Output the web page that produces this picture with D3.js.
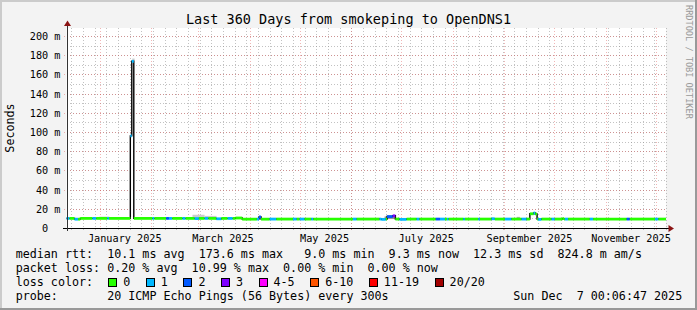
<!DOCTYPE html>
<html>
<head>
<meta charset="utf-8">
<script src="https://cdn.jsdelivr.net/npm/d3@7"></script>
<style>
  body { margin: 0; background: #f3f3f3; }
  svg text { font-family: "DejaVu Sans Mono", monospace; white-space: pre; }
</style>
</head>
<body>
<svg id="chart"></svg>
<script>
// window shown by the graph
const windowStart = "2024-12-12 00:06";
const windowEnd = "2025-12-07 00:06";
const yTopMs = 208.3;

// median rtt as steps: each value holds until the next change time
const changeTimes = [
  "2024-12-12 00:00", "2024-12-13 20:00", "2024-12-16 20:00", "2024-12-19 00:00", "2024-12-20 06:00",
  "2024-12-27 14:00", "2024-12-29 20:00", "2025-01-05 12:00", "2025-01-06 12:00", "2025-01-19 08:00",
  "2025-01-20 05:00", "2025-01-21 10:00", "2025-02-01 16:00", "2025-02-02 20:00", "2025-02-09 20:00",
  "2025-02-11 12:00", "2025-02-13 12:00", "2025-02-19 16:00", "2025-02-21 12:00", "2025-02-27 00:00",
  "2025-03-01 12:00", "2025-03-05 00:00", "2025-03-07 06:00", "2025-03-12 00:00", "2025-03-15 00:00",
  "2025-03-18 18:00", "2025-03-21 20:00", "2025-03-23 12:00", "2025-03-27 12:00", "2025-04-05 08:00",
  "2025-04-06 14:00", "2025-04-07 20:00", "2025-04-13 00:00", "2025-04-17 00:00", "2025-04-27 00:00",
  "2025-04-29 06:00", "2025-05-01 00:00", "2025-05-04 00:00", "2025-05-08 00:00", "2025-05-09 06:00",
  "2025-06-02 00:00", "2025-06-04 06:00", "2025-06-18 00:00", "2025-06-19 00:00", "2025-06-21 18:00",
  "2025-06-22 12:00", "2025-06-25 22:00", "2025-06-27 12:00", "2025-06-30 00:00", "2025-07-04 06:00",
  "2025-07-10 06:00", "2025-07-12 00:00", "2025-07-21 18:00", "2025-07-24 06:00", "2025-07-27 06:00",
  "2025-07-28 12:00", "2025-07-29 12:00", "2025-08-07 06:00", "2025-08-08 06:00", "2025-08-16 06:00",
  "2025-08-17 06:00", "2025-08-24 06:00", "2025-08-26 06:00", "2025-09-01 06:00", "2025-09-05 06:00",
  "2025-09-11 06:00", "2025-09-14 06:00", "2025-09-16 06:00", "2025-09-18 12:00", "2025-09-19 12:00",
  "2025-09-20 14:00", "2025-09-21 06:00", "2025-09-23 06:00", "2025-09-29 06:00", "2025-10-01 06:00",
  "2025-10-05 18:00", "2025-10-06 18:00", "2025-10-07 06:00", "2025-10-09 06:00", "2025-10-22 06:00",
  "2025-10-24 06:00", "2025-11-13 10:00", "2025-11-15 06:00", "2025-11-30 10:00", "2025-12-02 10:00"
];
const medianMs = [
  10.0, 10.0, 9.2, 9.2, 10.0,
  10.0, 10.0, 10.0, 10.0, 96.0,
  173.6, 10.0, 10.0, 10.0, 10.0,
  10.0, 10.0, 10.0, 10.0, 9.8,
  10.0, 10.0, 10.0, 9.6, 10.0,
  10.0, 10.0, 10.4, 9.2, 9.3,
  11.5, 9.2, 9.3, 9.3, 9.3,
  9.3, 9.3, 9.3, 9.3, 9.3,
  9.3, 9.3, 9.3, 9.0, 9.3,
  11.9, 12.7, 9.3, 9.0, 9.3,
  9.3, 9.3, 9.3, 9.3, 9.3,
  9.3, 9.3, 9.3, 9.3, 9.3,
  9.3, 9.6, 9.3, 9.3, 9.3,
  9.3, 9.3, 14.8, 15.6, 14.6,
  9.3, 9.0, 9.3, 9.3, 9.3,
  9.8, 9.3, 9.3, 9.3, 9.3,
  9.3, 9.3, 9.3, 9.3, 9.3
];
const lossPings = [
  1, 0, 1, 0, 0,
  1, 0, 1, 0, 1,
  1, 0, 1, 0, 2,
  1, 0, 1, 0, 1,
  0, 1, 0, 1, 0,
  1, 0, 0, 0, 1,
  2, 0, 1, 0, 1,
  0, 1, 0, 1, 0,
  1, 0, 1, 1, 0,
  2, 3, 0, 1, 0,
  1, 0, 2, 1, 0,
  1, 0, 1, 0, 1,
  0, 1, 0, 1, 0,
  1, 0, 0, 1, 0,
  0, 1, 0, 1, 0,
  0, 0, 1, 0, 1,
  0, 2, 0, 1, 0
];

// visible smoke patches (spread of the 20 pings)
const smokeFrom = ["2024-12-31 18:00", "2025-01-11 12:00", "2025-01-20 12:00", "2025-01-24 22:00", "2025-02-10 16:00",
  "2025-02-15 22:00", "2025-02-25 16:00", "2025-03-04 22:00", "2025-06-21 00:00", "2025-08-24 10:00",
  "2025-09-08 08:00", "2025-10-05 22:00"];
const smokeTo = ["2025-01-06 18:00", "2025-01-15 22:00", "2025-01-21 22:00", "2025-01-26 22:00", "2025-02-13 02:00",
  "2025-02-17 22:00", "2025-03-04 22:00", "2025-03-12 02:00", "2025-06-27 16:00", "2025-08-25 14:00",
  "2025-09-10 06:00", "2025-10-06 16:00"];
const smokeLoMs = [10.0, 10.0, 173.6, 10.0, 10.0, 10.0, 10.0, 10.0, 9.3, 9.6, 9.3, 9.8];
const smokeHiMs = [12.0, 11.5, 176.5, 11.5, 11.5, 11.0, 13.8, 12.6, 12.0, 11.0, 11.6, 11.0];
const smokePings = [3, 2, 4, 2, 3, 2, 4, 4, 8, 3, 6, 4];

// tick labels
const yTicksMinor = d3.range(10, 201, 10);
const yTicksMajor = d3.range(0, 201, 20);
const xLabelMonths = ["2025-01-01", "2025-03-01", "2025-05-01", "2025-07-01", "2025-09-01", "2025-11-01"];

// legend
const lossLabels = ["0", "1", "2", "3", "4-5", "6-10", "11-19", "20/20"];
const lossColors = ["#26ff00", "#00b8ff", "#0059ff", "#7e00ff", "#ff00ff", "#ff5500", "#ff0000", "#a10000"];
const lossBounds = [0, 1, 2, 3, 5, 10, 19, 20];
const titleText = "Last 360 Days from smokeping to OpenDNS1";
const rttLine = "median rtt:  10.1 ms avg  173.6 ms max   9.0 ms min  9.3 ms now  12.3 ms sd  824.8 m am/s";
const lossLine = "packet loss: 0.20 % avg  10.99 % max  0.00 % min  0.00 % now";
const probeLine = "probe:       20 ICMP Echo Pings (56 Bytes) every 300s";
const stampText = "Sun Dec  7 00:06:47 2025";

const W = 697, H = 310;
const plot = { left: 66.5, right: 666, top: 28, bottom: 228 };
const parseT = d3.timeParse("%Y-%m-%d %H:%M");
const parseD = d3.timeParse("%Y-%m-%d");
const tStart = parseT(windowStart), tEnd = parseT(windowEnd);

const svg = d3.select("#chart").attr("width", W).attr("height", H);

// frame
svg.append("rect").attr("width", W).attr("height", H).attr("fill", "#f3f3f3");
svg.append("path").attr("d", `M1,${H} V1 H${W}`).attr("fill", "none").attr("stroke", "#cbcbcb").attr("stroke-width", 2);
svg.append("path").attr("d", `M0,${H - 1} H${W - 1} V0`).attr("fill", "none").attr("stroke", "#999").attr("stroke-width", 2);

const x = d3.scaleTime().domain([tStart, tEnd]).range([plot.left, plot.right]);
const y = d3.scaleLinear().domain([0, yTopMs]).range([plot.bottom, plot.top]);
const px = v => Math.round(v) + 0.5;

svg.append("rect")
  .attr("x", plot.left).attr("y", plot.top)
  .attr("width", plot.right - plot.left).attr("height", plot.bottom - plot.top)
  .attr("fill", "#fff");

const grid = svg.append("g").attr("shape-rendering", "crispEdges").attr("fill", "none");
const minorColor = "rgba(143,143,143,0.55)";
const majorColor = "rgba(222,80,80,0.42)";

// minor grid
grid.selectAll(".hmin").data(yTicksMinor).enter().append("line")
  .attr("x1", plot.left).attr("x2", plot.right)
  .attr("y1", d => px(y(d))).attr("y2", d => px(y(d)))
  .attr("stroke", minorColor).attr("stroke-dasharray", "1,2");
grid.selectAll(".vmin").data(d3.timeSunday.range(tStart, tEnd)).enter().append("line")
  .attr("x1", d => px(x(d))).attr("x2", d => px(x(d)))
  .attr("y1", plot.top).attr("y2", plot.bottom + 2)
  .attr("stroke", minorColor).attr("stroke-dasharray", "1,2");

// major grid
grid.selectAll(".hmaj").data(yTicksMajor.filter(d => d > 0)).enter().append("line")
  .attr("x1", plot.left - 3).attr("x2", plot.right)
  .attr("y1", d => px(y(d))).attr("y2", d => px(y(d)))
  .attr("stroke", majorColor).attr("stroke-dasharray", "1,2");
grid.selectAll(".vmaj").data(d3.timeMonth.range(tStart, tEnd)).enter().append("line")
  .attr("x1", d => px(x(d))).attr("x2", d => px(x(d)))
  .attr("y1", plot.top).attr("y2", plot.bottom + 3)
  .attr("stroke", majorColor).attr("stroke-dasharray", "1,2");

// smoke
const smokeGray = d3.scaleLinear().domain([0, 20]).range(["#ffffff", "#000000"]);
svg.append("g").selectAll("rect").data(smokeFrom).enter().append("rect")
  .attr("x", (d, i) => x(parseT(d)))
  .attr("width", (d, i) => x(parseT(smokeTo[i])) - x(parseT(d)))
  .attr("y", (d, i) => y(smokeHiMs[i]))
  .attr("height", (d, i) => y(smokeLoMs[i]) - y(smokeHiMs[i]))
  .attr("fill", (d, i) => smokeGray(smokePings[i]));

// median line (black steps)
const pts = changeTimes.map((t, i) => [parseT(t), medianMs[i]]);
pts.push([tEnd, medianMs[medianMs.length - 1]]);
svg.append("path")
  .datum(pts)
  .attr("fill", "none").attr("stroke", "#000").attr("stroke-width", 1.4)
  .attr("d", d3.line().x(d => x(d[0])).y(d => y(d[1])).curve(d3.curveStepAfter));

// loss coloured bars on the median
const lossIndex = n => lossBounds.findIndex(b => n <= b);
const segs = changeTimes.map((t, i) => ({
  t0: parseT(t),
  t1: i + 1 < changeTimes.length ? parseT(changeTimes[i + 1]) : tEnd,
  v: medianMs[i],
  loss: lossPings[i]
}));
svg.append("g").selectAll("path").data(segs).enter().append("path")
  .attr("fill", "none").attr("stroke-width", 2.8)
  .attr("stroke", d => lossColors[lossIndex(d.loss)])
  .attr("d", d => d3.line().x(p => x(p[0])).y(p => y(p[1]))([[d.t0, d.v], [d.t1, d.v]]));

// axes
const axisG = svg.append("g").attr("shape-rendering", "crispEdges");
axisG.append("line").attr("x1", 63).attr("x2", 669).attr("y1", plot.bottom + 0.5).attr("y2", plot.bottom + 0.5)
  .attr("stroke", "#000");
axisG.append("line").attr("x1", px(plot.left)).attr("x2", px(plot.left)).attr("y1", 24).attr("y2", plot.bottom + 3)
  .attr("stroke", "#333");
svg.append("path").attr("fill", "#8b1414")
  .attr("d", `M${px(plot.left)},20.5 L${px(plot.left) - 3.5},26 L${px(plot.left) + 3.5},26 Z`);
svg.append("path").attr("fill", "#8b1414")
  .attr("d", `M674,${plot.bottom + 0.5} L668.5,${plot.bottom - 3} L668.5,${plot.bottom + 4} Z`);

// y labels
svg.append("g").selectAll("text").data(yTicksMajor).enter().append("text")
  .attr("x", 60.5).attr("y", d => px(y(d)) + 3.5)
  .attr("text-anchor", "end").attr("font-size", "10.2px")
  .text(d => d === 0 ? "0  " : `${d} m`);

// x labels, centred half a month after the month start
svg.append("g").selectAll("text").data(xLabelMonths.map(parseD)).enter().append("text")
  .attr("x", d => x(d3.timeDay.offset(d, 15)))
  .attr("y", 241.5)
  .attr("text-anchor", "middle").attr("font-size", "10.2px")
  .text(d3.timeFormat("%B %Y"));

// titles
svg.append("text").attr("x", 348.5).attr("y", 24).attr("text-anchor", "middle")
  .attr("font-size", "13.5px").text(titleText);
svg.append("text").attr("transform", `translate(14,128) rotate(-90)`)
  .attr("text-anchor", "middle").attr("font-size", "11.7px").text("Seconds");
svg.append("text").attr("transform", `translate(685.5,5) rotate(90)`)
  .attr("font-size", "8.6px").attr("fill", "#9a9a9a").text("RRDTOOL / TOBI OETIKER");

// legend
const lg = svg.append("g").attr("font-size", "11.7px");
const cw = 7.05;
lg.append("text").attr("x", 15.7).attr("y", 257.5).text(rttLine);
lg.append("text").attr("x", 15.7).attr("y", 271.7).text(lossLine);
lg.append("text").attr("x", 15.7).attr("y", 285.9).text("loss color:");
lg.append("text").attr("x", 15.7).attr("y", 300.1).text(probeLine);
lg.append("text").attr("x", 513.3).attr("y", 300.1).text(stampText);

let bx = 108.3;
lossLabels.forEach((lab, i) => {
  lg.append("rect").attr("x", Math.round(bx) + 0.5).attr("y", 278.5).attr("width", 8).attr("height", 8)
    .attr("fill", lossColors[i]).attr("stroke", "#000").attr("shape-rendering", "crispEdges");
  lg.append("text").attr("x", bx + 15).attr("y", 285.9).text(lab);
  bx += 15 + lab.length * cw + 15.5;
});
</script>
</body>
</html>
